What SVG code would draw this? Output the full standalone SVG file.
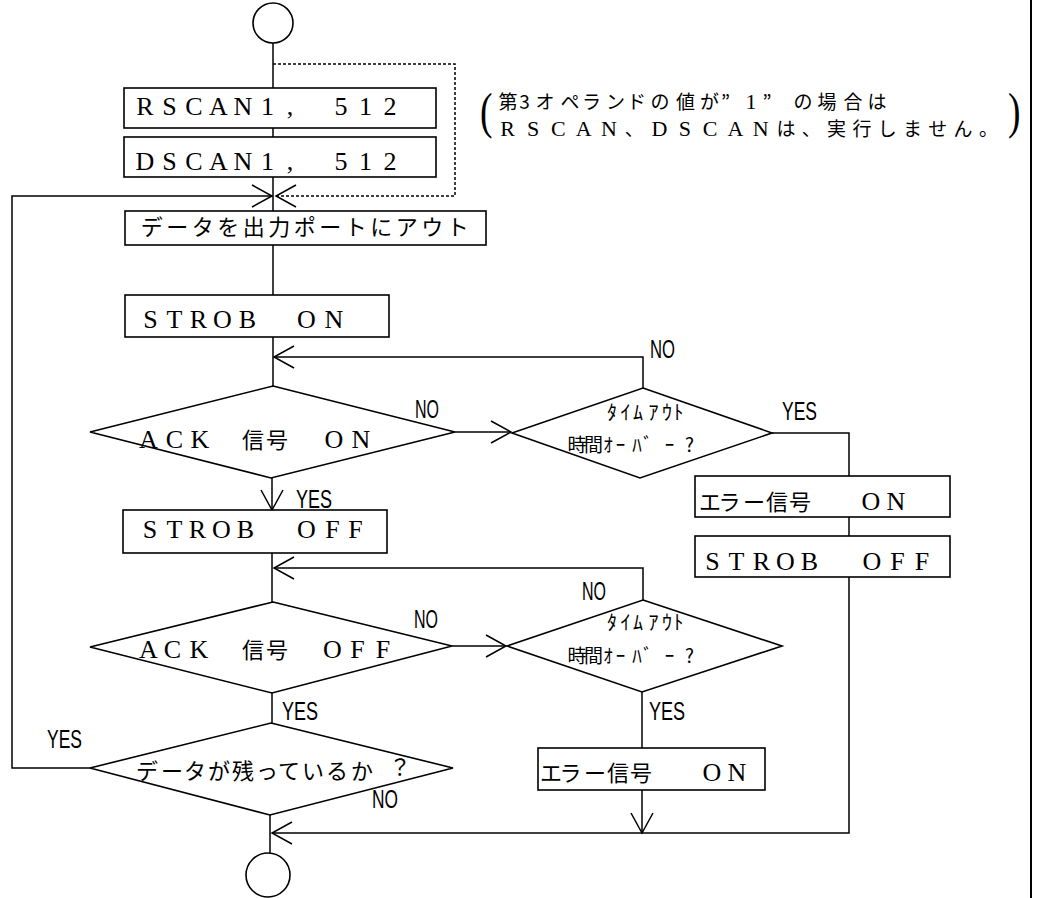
<svg xmlns="http://www.w3.org/2000/svg" width="1037" height="898" viewBox="0 0 1037 898">
<defs>
<style>
.shape{fill:#fff;stroke:#000;stroke-width:1.6}
.ln{fill:none;stroke:#000;stroke-width:1.5}
.dash{fill:none;stroke:#000;stroke-width:1.5;stroke-dasharray:3 2}
.lat{font-family:"Liberation Serif","Noto Sans CJK JP",serif;font-size:26px;fill:#000;text-anchor:middle}
.jp{font-family:"Noto Sans CJK JP",sans-serif;font-size:22px;fill:#000;text-anchor:middle}
.hw{font-family:"Noto Sans CJK JP",sans-serif;font-size:20px;fill:#000;text-anchor:middle}
.lbl{font-family:"Liberation Sans",sans-serif;font-size:25px;fill:#000}
.par{font-family:"Liberation Serif",serif;font-size:50px;fill:#000}
.nj{font-size:19px}
.nl{font-size:22px}
</style>
<marker id="ah" markerUnits="userSpaceOnUse" markerWidth="24" markerHeight="26" refX="21" refY="12" orient="auto" viewBox="0 0 24 26">
<path d="M1,1 L21,12 L1,23" fill="none" stroke="#000" stroke-width="1.5"/>
</marker>
</defs>
<rect width="1037" height="898" fill="#fff"/>

<g id="connectors">
<path class="ln" d="M273,43 V88"/>
<path class="ln" d="M273,128 V137"/>
<path class="ln" d="M273,177 V211"/>
<path class="dash" d="M273,64 H455 V196 H276" marker-end="url(#ah)"/>
<path class="ln" d="M90,768 H12 V196 H272" marker-end="url(#ah)"/>
<path class="ln" d="M273,245 V295"/>
<path class="ln" d="M273,337 V386"/>
<path class="ln" d="M643,388 V357 H274" marker-end="url(#ah)"/>
<path class="ln" d="M455,432 H511" marker-end="url(#ah)"/>
<path class="ln" d="M272,478 V510" marker-end="url(#ah)"/>
<path class="ln" d="M772,433 H849 V476"/>
<path class="ln" d="M849,517 V536"/>
<path class="ln" d="M849,577 V833 H272" marker-end="url(#ah)"/>
<path class="ln" d="M272,553 V602"/>
<path class="ln" d="M643,600 V568 H274" marker-end="url(#ah)"/>
<path class="ln" d="M452,646 H506" marker-end="url(#ah)"/>
<path class="ln" d="M272,693 V723"/>
<path class="ln" d="M642,692 V748"/>
<path class="ln" d="M642,790 V833" marker-end="url(#ah)"/>
<path class="ln" d="M270,815 V853"/>
</g>

<g id="frame">
<line x1="1031" y1="0" x2="1031" y2="898" stroke="#000" stroke-width="2"/>
</g>

<g id="start">
<circle class="shape" cx="273" cy="23" r="20"/>
</g>

<g id="rscan">
<rect class="shape" x="124" y="88" width="312" height="40"/>
<text class="lat" y="115" x="145 169.5 194 218.5 243 267.5 290 316 341 365.5 390">RSCAN1, 512</text>
</g>

<g id="dscan">
<rect class="shape" x="124" y="137" width="312" height="40"/>
<text class="lat" y="170" x="145 169.5 194 218.5 243 267.5 290 316 341 365.5 390">DSCAN1, 512</text>
</g>

<g id="note">
<text class="par" transform="translate(480,0) scale(0.75,1)" x="0" y="128">(</text>
<text class="par" transform="translate(1008,0) scale(0.75,1)" x="0" y="128">)</text>
<text class="jp nj"><tspan y="109" x="508 524.5 545 570 591.5 615.5 636.5 660 685.5 709.5 725.5">第3オペランドの値が”</tspan><tspan class="lat nl" x="751">1</tspan><tspan x="767 803 827 853 877">”の場合は</tspan><tspan class="lat nl" y="136" x="507.6 533 558.3 583.6 608.9">RSCAN</tspan><tspan x="634.2">、</tspan><tspan class="lat nl" x="659.5 684.8 710.1 735.4 760.7">DSCAN</tspan><tspan x="786 811.3 836.6 861.9 887.2 912.5 937.8 963.1 988.4">は、実行しません。</tspan></text>
</g>

<g id="out">
<rect class="shape" x="125" y="211" width="361" height="34"/>
<text class="jp" y="235" x="151.8 177.3 202.8 228.3 253.8 279.3 304.8 330.3 355.8 381.3 406.8 432.3 457.8">データを出力ポートにアウト</text>
</g>

<g id="strob-on">
<rect class="shape" x="125" y="295" width="264" height="42"/>
<text class="lat" y="328" x="150.5 174.5 198.5 222.5 247.5 277 306.5 334">STROB ON</text>
</g>

<g id="ack-on">
<polygon class="shape" points="273,386 455,432 271,478 90,432"/>
<text class="lat" y="448"><tspan x="148.5 174.5 200">ACK</tspan><tspan class="jp" style="font-size:22px" x="253 277">信号</tspan><tspan x="334 361">ON</tspan></text>
</g>

<g id="timeout1">
<polygon class="shape" points="643,388 772,433 640,478 512,433"/>
<text class="hw" y="420" x="612 625.5 638 653.5 667 678.5">ﾀｲﾑｱｳﾄ</text>
<text class="hw" style="font-size:19px" y="452" x="577 593.5 608 620.5 637 648 669.5 689.5">時間ｵｰﾊﾞｰ?</text>
</g>

<g id="err1">
<rect class="shape" x="695" y="476" width="255" height="41"/>
<text y="510"><tspan class="jp" x="710 729.5 754 777 800">エラー信号</tspan><tspan class="lat" x="871 896">ON</tspan></text>
</g>

<g id="strob-off2">
<rect class="shape" x="695" y="536" width="255" height="41"/>
<text class="lat" y="570" x="712.5 736.5 761.5 785.5 809.5 841 872 897.5 922">STROB OFF</text>
</g>

<g id="strob-off">
<rect class="shape" x="123" y="510" width="264" height="43"/>
<text class="lat" y="538" x="150 174.5 197.5 221.5 245.5 276 306.5 332.5 355.5">STROB OFF</text>
</g>

<g id="ack-off">
<polygon class="shape" points="273,602 452,646 272,693 90,647"/>
<text class="lat" y="658"><tspan x="148.5 172.5 199">ACK</tspan><tspan class="jp" style="font-size:22px" x="253 277">信号</tspan><tspan x="332.5 357.5 383">OFF</tspan></text>
</g>

<g id="timeout2">
<polygon class="shape" points="643,600 782,646 642,692 507,646"/>
<text class="hw" y="630" x="612 625.5 638 653.5 667 678.5">ﾀｲﾑｱｳﾄ</text>
<text class="hw" style="font-size:19px" y="663" x="577 593.5 608 620.5 637 648 669.5 689.5">時間ｵｰﾊﾞｰ?</text>
</g>

<g id="err2">
<rect class="shape" x="538" y="748" width="227" height="42"/>
<text y="781"><tspan class="jp" x="551 570.5 595 618 641">エラー信号</tspan><tspan class="lat" x="712 737">ON</tspan></text>
</g>

<g id="remain">
<polygon class="shape" points="271,723 453,768 270,815 90,768"/>
<text class="jp" y="779"><tspan x="147 172 195 219 243 267 289 313 337 362">データが残っているか</tspan><tspan y="775" x="400">？</tspan></text>
</g>

<g id="end">
<circle class="shape" cx="268" cy="875" r="22"/>
</g>

<g id="labels">
<text class="lbl" x="650" y="358" textLength="25" lengthAdjust="spacingAndGlyphs">NO</text>
<text class="lbl" x="415" y="418" textLength="24" lengthAdjust="spacingAndGlyphs">NO</text>
<text class="lbl" x="782" y="420" textLength="35" lengthAdjust="spacingAndGlyphs">YES</text>
<text class="lbl" x="296" y="508" textLength="36" lengthAdjust="spacingAndGlyphs">YES</text>
<text class="lbl" x="582" y="600" textLength="24" lengthAdjust="spacingAndGlyphs">NO</text>
<text class="lbl" x="414" y="628" textLength="24" lengthAdjust="spacingAndGlyphs">NO</text>
<text class="lbl" x="649" y="720" textLength="36" lengthAdjust="spacingAndGlyphs">YES</text>
<text class="lbl" x="282" y="720" textLength="36" lengthAdjust="spacingAndGlyphs">YES</text>
<text class="lbl" x="47" y="748" textLength="35" lengthAdjust="spacingAndGlyphs">YES</text>
<text class="lbl" x="372" y="808" textLength="26" lengthAdjust="spacingAndGlyphs">NO</text>
</g>
</svg>
